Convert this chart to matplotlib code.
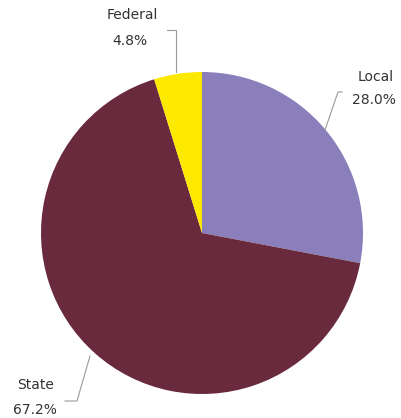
import matplotlib.pyplot as plt

# Funding sources (share of total)
fuentes = ['Local', 'State', 'Federal']
porcentajes = [28.0, 67.2, 4.8]
colores = ['#8a7fbb', '#6a2a3e', '#fde800']

fig = plt.figure(figsize=(4.02, 4.18), dpi=100)
ax = fig.add_axes([0, 0, 1, 1])

# pie laid out in pixel-like coordinates (y up)
ax.pie(porcentajes, colors=colores, startangle=90, counterclock=False,
       center=(202, 185), radius=161, wedgeprops={'linewidth': 0})

# pie() resets the limits, so set them afterwards
ax.set_xlim(0, 402)
ax.set_ylim(0, 418)
ax.set_aspect('equal')
ax.axis('off')

txt = dict(fontsize=10, color='#333333', family='DejaVu Sans')
ax.text(132, 403, 'Federal', ha='center', va='center', **txt)
ax.text(130, 377, f'{porcentajes[2]:.1f}%', ha='center', va='center', **txt)
ax.text(376, 341, 'Local', ha='center', va='center', **txt)
ax.text(374, 318, f'{porcentajes[0]:.1f}%', ha='center', va='center', **txt)
ax.text(36, 33, 'State', ha='center', va='center', **txt)
ax.text(35, 8, f'{porcentajes[1]:.1f}%', ha='center', va='center', **txt)

# leader lines
linea = dict(color='#999999', linewidth=0.8)
ax.plot([167, 176, 176], [388, 388, 346], **linea)
ax.plot([342, 338, 325], [326, 326, 288], **linea)
ax.plot([90, 77, 65], [62, 17, 17], **linea)

fig.savefig('out.png', dpi=100)
